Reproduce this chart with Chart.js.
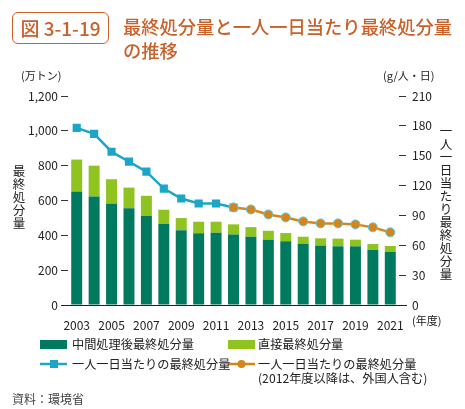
<!DOCTYPE html>
<html>
<head>
<meta charset="utf-8">
<script src="https://cdn.jsdelivr.net/npm/chart.js@4"></script>
<style>
  body { margin: 0; background: #fff; font-family: "Noto Sans CJK JP", "Noto Sans", sans-serif; }
  #wrap { position: relative; width: 465px; height: 409px; overflow: hidden; }
  #c { position: absolute; left: 0; top: 0; }
  .box { position: absolute; left: 12px; top: 12px; width: 95px; height: 30px; border: 1.5px solid #c8612a; border-radius: 6px;
         color: #c8612a; font-size: 19px; line-height: 30px; text-align: center; font-weight: 500; }
  .title { position: absolute; left: 123px; top: 14px; color: #c8612a; font-size: 18.3px; line-height: 24px; font-weight: 500; }
  .leg { position: absolute; font-size: 12.2px; color: #222; line-height: 14px; white-space: nowrap; }
  .sw { position: absolute; width: 27px; height: 9px; }
  .src { position: absolute; left: 12px; top: 390px; font-size: 12px; color: #444; }
</style>
</head>
<body>
<div id="wrap">
  <canvas id="c" width="465" height="409"></canvas>
  <div class="box">図 3-1-19</div>
  <div class="title">最終処分量と一人一日当たり最終処分量<br>の推移</div>

  <div class="sw" style="left:40px;top:340px;background:#007a5e"></div>
  <div class="leg" style="left:72px;top:337px">中間処理後最終処分量</div>
  <div class="sw" style="left:228px;top:340px;background:#8fc31f"></div>
  <div class="leg" style="left:258px;top:337px">直接最終処分量</div>

  <canvas id="lg" width="465" height="30" style="position:absolute;left:0;top:350px"></canvas>
  <div class="leg" style="left:72px;top:357px">一人一日当たりの最終処分量</div>
  <div class="leg" style="left:258px;top:357px">一人一日当たりの最終処分量<br>(2012年度以降は、外国人含む)</div>
  <div class="src">資料：環境省</div>
</div>
<script>
const years = ['2003','2004','2005','2006','2007','2008','2009','2010','2011','2012',
               '2013','2014','2015','2016','2017','2018','2019','2020','2021'];
// 万トン
const afterTreatment = [652, 623, 581, 555, 511, 465, 429, 412, 415, 405, 392, 375, 366, 352, 341, 337, 337, 316, 305];
const direct         = [183, 177, 141, 119, 116,  82,  70,  66,  63,  58,  55,  51,  47,  40,  42,  44,  38,  34,  34];
// g/人・日
const perCapita      = [178, 172, 154, 144, 134, 117, 107, 102, 102,  98, null, null, null, null, null, null, null, null, null];
const perCapitaForeign = [null, null, null, null, null, null, null, null, null, 98, 96, 91, 88, 84, 82, 82, 81, 78, 73];
const leftTicks = [0, 200, 400, 600, 800, 1000, 1200];
const rightTicks = [0, 30, 60, 90, 120, 150, 180, 210];

const DARK = '#007a5e', LIGHT = '#8fc31f', BLUE = '#1ba6c8', ORANGE = '#d4861a';
const FONT = '"Noto Sans CJK JP", "Noto Sans", sans-serif';

const extras = {
  id: 'extras',
  afterDraw(chart) {
    const c = chart.ctx, a = chart.chartArea;
    c.save();
    // baseline
    c.strokeStyle = '#222'; c.lineWidth = 1.2;
    c.beginPath(); c.moveTo(62, a.bottom + 0.5); c.lineTo(407, a.bottom + 0.5); c.stroke();
    c.fillStyle = '#222';
    c.font = '11px ' + FONT;
    c.textBaseline = 'middle';
    c.textAlign = 'left';
    c.fillText('(万トン)', 21, 76);
    c.fillText('(g/人・日)', 383, 76);
    c.fillText('(年度)', 412, 321);
    // vertical titles
    c.font = '12.5px ' + FONT;
    c.textAlign = 'center';
    const v1 = '最終処分量';
    for (let i = 0; i < v1.length; i++) c.fillText(v1[i], 19, 171 + i * 13);
    const v2 = '一人一日当たり最終処分量';
    for (let i = 0; i < v2.length; i++) c.fillText(v2[i], 446, 131 + i * 13);
    c.restore();
  }
};

new Chart(document.getElementById('c'), {
  data: {
    labels: years,
    datasets: [
      { type: 'line', label: '一人一日当たりの最終処分量(外国人含む)', data: perCapitaForeign, yAxisID: 'y2',
        borderColor: ORANGE, borderWidth: 2.5, pointStyle: 'circle', pointRadius: 4.5,
        pointBackgroundColor: ORANGE, pointBorderColor: '#5cc6e0', pointBorderWidth: 1, order: 0 },
      { type: 'line', label: '一人一日当たりの最終処分量', data: perCapita, yAxisID: 'y2',
        borderColor: BLUE, borderWidth: 2.5, pointStyle: 'rect', pointRadius: 4,
        pointBackgroundColor: BLUE, pointBorderColor: BLUE, order: 1 },
      { type: 'bar', label: '中間処理後最終処分量', data: afterTreatment, backgroundColor: DARK,
        stack: 's', barPercentage: 0.63, categoryPercentage: 1, order: 3 },
      { type: 'bar', label: '直接最終処分量', data: direct, backgroundColor: LIGHT,
        stack: 's', barPercentage: 0.63, categoryPercentage: 1, order: 3 }
    ]
  },
  options: {
    responsive: false,
    animation: false,
    layout: { padding: { top: 96, left: 0, right: 0, bottom: 0 } },
    plugins: { legend: { display: false }, tooltip: { enabled: false } },
    scales: {
      x: {
        stacked: true,
        afterFit: s => { s.height = 104; },
        border: { display: false },
        grid: { display: false },
        ticks: {
          autoSkip: false, maxRotation: 0, color: '#222', padding: 5,
          font: { size: 12, family: FONT },
          callback: function (v, i) { return i % 2 === 0 ? this.getLabelForValue(v) : ''; }
        }
      },
      y: {
        stacked: true, position: 'left', min: 0, max: 1200,
        afterFit: s => { s.width = 68; },
        afterBuildTicks: s => { s.ticks = leftTicks.map(v => ({ value: v })); },
        border: { display: false },
        grid: { drawOnChartArea: false, tickLength: 7, color: '#333', lineWidth: 1 },
        ticks: { color: '#222', padding: 3, font: { size: 12, family: FONT },
                 callback: v => v.toLocaleString('en-US') }
      },
      y2: {
        position: 'right', min: 0, max: 210,
        afterFit: s => { s.width = 66; },
        afterBuildTicks: s => { s.ticks = rightTicks.map(v => ({ value: v })); },
        border: { display: false },
        grid: { drawOnChartArea: false, tickLength: 7, color: '#333', lineWidth: 1 },
        ticks: { color: '#222', padding: 6, font: { size: 12, family: FONT } }
      }
    }
  },
  plugins: [extras]
});

// legend line symbols
const lg = document.getElementById('lg').getContext('2d');
function sym(x, color, shape) {
  const y = 14;
  lg.strokeStyle = color; lg.lineWidth = 2.5;
  lg.beginPath(); lg.moveTo(x, y); lg.lineTo(x + 27, y); lg.stroke();
  lg.fillStyle = color;
  if (shape === 'rect') lg.fillRect(x + 10, y - 4, 8, 8);
  else { lg.beginPath(); lg.arc(x + 13.5, y, 4, 0, Math.PI * 2); lg.fill(); }
}
sym(40, BLUE, 'rect');
sym(228, ORANGE, 'circle');
</script>
</body>
</html>
